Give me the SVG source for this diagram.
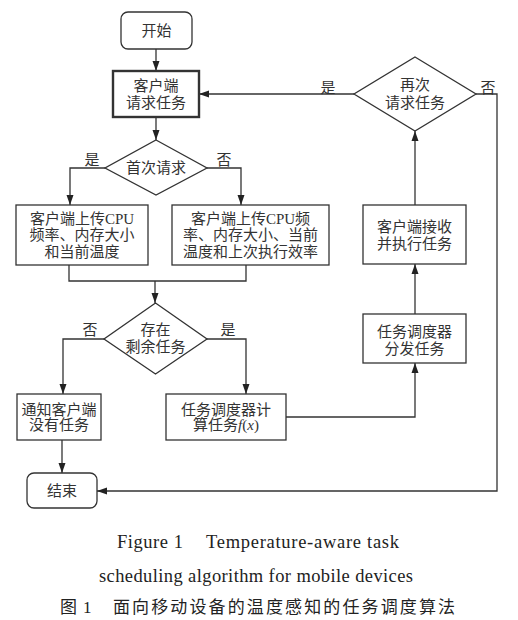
<svg xmlns="http://www.w3.org/2000/svg" width="518" height="620" viewBox="0 0 518 620">
<style>
.box{fill:#fff;stroke:#333;stroke-width:1.3}
.thick{stroke-width:2.4}
.t{font-family:"Liberation Serif","Noto Sans CJK SC",serif;font-size:15px;fill:#333;text-anchor:middle;dominant-baseline:central}
.lbl{font-family:"Noto Sans CJK SC",serif;font-size:15px;fill:#333;text-anchor:middle;dominant-baseline:central}
.c{fill:none;stroke:#333;stroke-width:1.3}
.cap{font-family:"Liberation Serif",serif;font-size:18.5px;fill:#222}
.capzh{font-family:"Liberation Serif","Noto Sans CJK SC",serif;font-size:17px;fill:#222}
</style>
<defs>
<marker id="ah" markerUnits="userSpaceOnUse" markerWidth="10" markerHeight="10" viewBox="0 0 10 10" refX="10" refY="5" orient="auto">
<path d="M0,1.5 L10,5 L0,8.5 Z" fill="#222"/>
</marker>
</defs>
<rect width="518" height="620" fill="#fff"/>

<g id="connectors">
<path class="c" d="M156,49 V71" marker-end="url(#ah)"/>
<path class="c" d="M156,117 V140" marker-end="url(#ah)"/>
<path class="c" d="M105,168 H70 V205" marker-end="url(#ah)"/>
<path class="c" d="M207,168 H241 V205" marker-end="url(#ah)"/>
<path class="c" d="M69,265 V281 H246 V265"/>
<path class="c" d="M155,281 V303" marker-end="url(#ah)"/>
<path class="c" d="M104,339 H63 V394" marker-end="url(#ah)"/>
<path class="c" d="M207,339 H246 V394" marker-end="url(#ah)"/>
<path class="c" d="M62,440 V473" marker-end="url(#ah)"/>
<path class="c" d="M286,417 H415 V363" marker-end="url(#ah)"/>
<path class="c" d="M415,314 V264" marker-end="url(#ah)"/>
<path class="c" d="M415,205 V131" marker-end="url(#ah)"/>
<path class="c" d="M354,94 H199" marker-end="url(#ah)"/>
<path class="c" d="M476,94 H497 V491 H97" marker-end="url(#ah)"/>
<text class="lbl" x="92" y="158">是</text>
<text class="lbl" x="224" y="158">否</text>
<text class="lbl" x="90" y="328">否</text>
<text class="lbl" x="228" y="328">是</text>
<text class="lbl" x="328" y="86">是</text>
<text class="lbl" x="488" y="86">否</text>
</g>

<g id="start">
<rect class="box" x="121" y="12" width="71" height="37" rx="7"/>
<text class="t" x="156.5" y="31">开始</text>
</g>

<g id="request">
<rect class="box thick" x="113" y="71" width="86" height="46"/>
<text class="t" x="156" y="86">客户端</text>
<text class="t" x="156" y="103">请求任务</text>
</g>

<g id="first">
<polygon class="box" points="156,140 207,168 156,195 105,168"/>
<text class="t" x="156" y="168">首次请求</text>
</g>

<g id="uploadA">
<rect class="box" x="16" y="205" width="132" height="60"/>
<text class="t" x="82" y="219">客户端上传CPU</text>
<text class="t" x="82" y="235">频率、内存大小</text>
<text class="t" x="82" y="252">和当前温度</text>
</g>

<g id="uploadB">
<rect class="box" x="172" y="205" width="157" height="60"/>
<text class="t" x="250.5" y="219">客户端上传CPU频</text>
<text class="t" x="250.5" y="235">率、内存大小、当前</text>
<text class="t" x="250.5" y="252">温度和上次执行效率</text>
</g>

<g id="remain">
<polygon class="box" points="155.5,303 207,339 155.5,374 104,339"/>
<text class="t" x="155.5" y="330">存在</text>
<text class="t" x="155.5" y="347">剩余任务</text>
</g>

<g id="notify">
<rect class="box" x="17" y="394" width="84" height="46"/>
<text class="t" x="59" y="410">通知客户端</text>
<text class="t" x="59" y="425">没有任务</text>
</g>

<g id="calc">
<rect class="box" x="166" y="394" width="120" height="46"/>
<text class="t" x="226" y="410">任务调度器计</text>
<text class="t" x="226" y="425">算任务<tspan font-style="italic">f</tspan>(<tspan font-style="italic">x</tspan>)</text>
</g>

<g id="end">
<rect class="box" x="27" y="473" width="70" height="35" rx="7"/>
<text class="t" x="62" y="491">结束</text>
</g>

<g id="dispatch">
<rect class="box" x="363" y="314" width="103" height="49"/>
<text class="t" x="414.5" y="332">任务调度器</text>
<text class="t" x="414.5" y="349">分发任务</text>
</g>

<g id="receive">
<rect class="box" x="363" y="205" width="103" height="59"/>
<text class="t" x="414.5" y="227">客户端接收</text>
<text class="t" x="414.5" y="244">并执行任务</text>
</g>

<g id="again">
<polygon class="box" points="415,57 476,94 415,131 354,94"/>
<text class="t" x="415" y="85">再次</text>
<text class="t" x="415" y="103">请求任务</text>
</g>

<g id="caption">
<text class="cap" x="117" y="548" textLength="66" lengthAdjust="spacing">Figure 1</text>
<text class="cap" x="206" y="548" textLength="193" lengthAdjust="spacing">Temperature-aware task</text>
<text class="cap" x="99" y="582" textLength="314" lengthAdjust="spacing">scheduling algorithm for mobile devices</text>
<text class="capzh" x="60" y="613">图</text>
<text class="capzh" x="83" y="613">1</text>
<text class="capzh" x="113" y="613" textLength="342" lengthAdjust="spacing">面向移动设备的温度感知的任务调度算法</text>
</g>
</svg>
